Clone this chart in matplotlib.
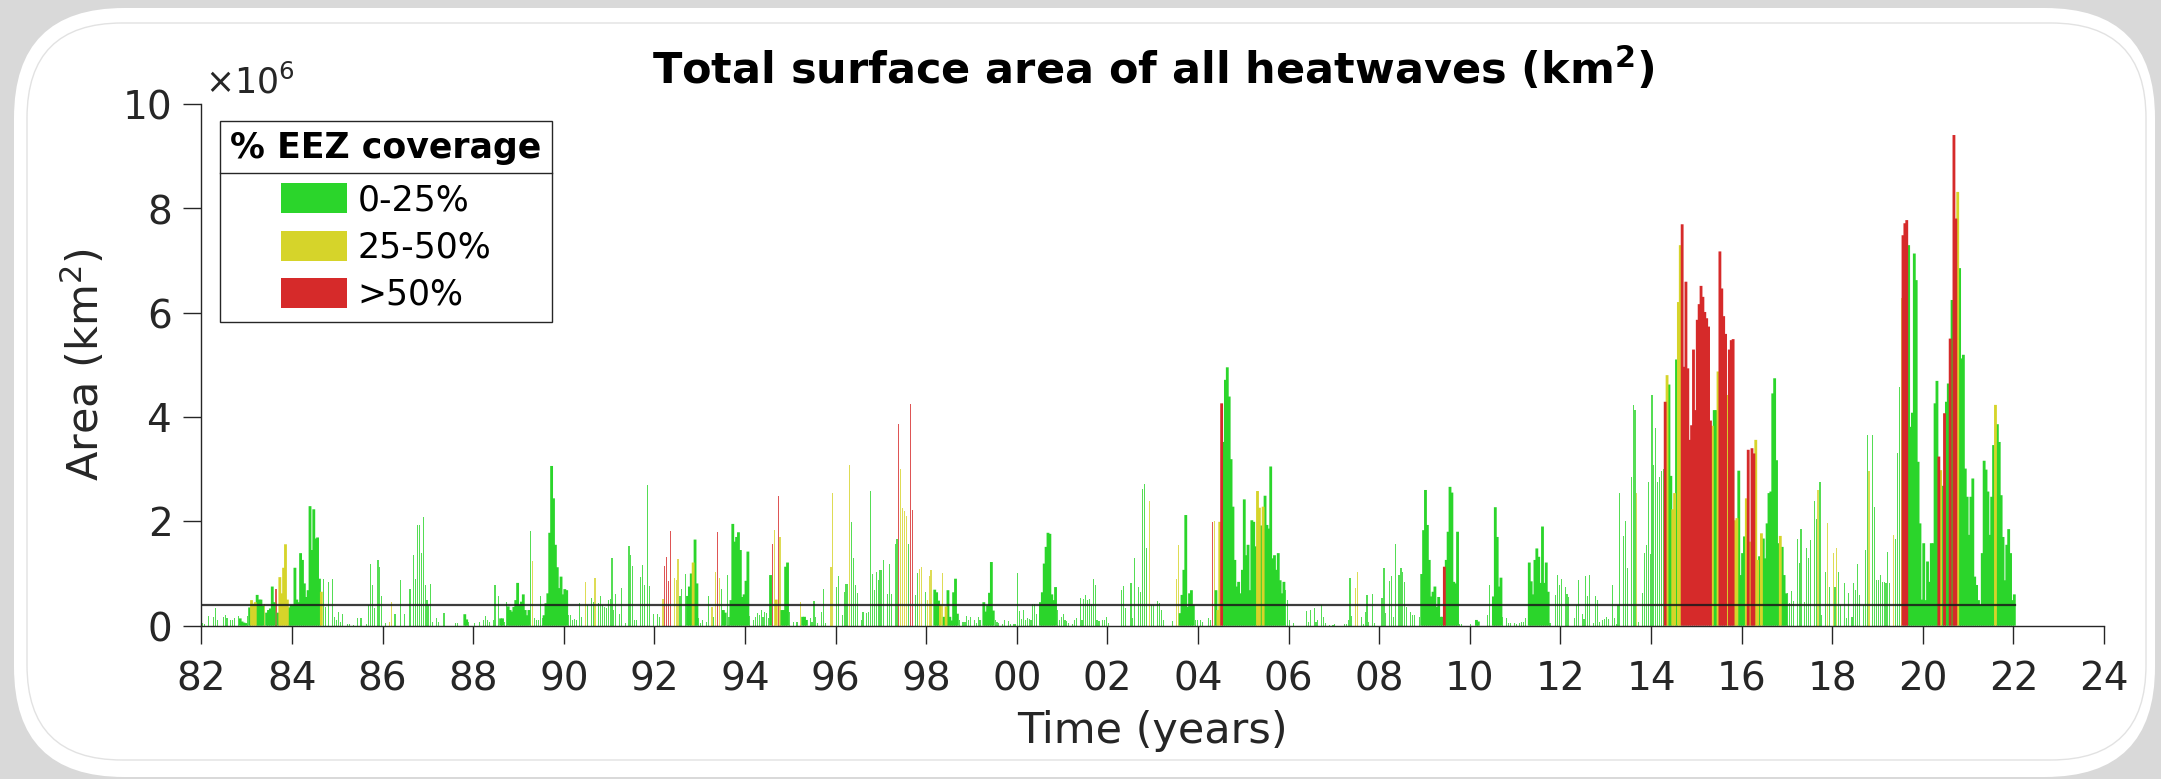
import numpy as np
import matplotlib
matplotlib.use("Agg")
import matplotlib.pyplot as plt
from matplotlib.patches import Patch, FancyBboxPatch
from matplotlib.lines import Line2D
from matplotlib.transforms import IdentityTransform
from matplotlib.ticker import ScalarFormatter

# total heatwave area per half-month bin, in 10^6 km2, one row per year from 1982
# cover: '.' none, g/y/r = 0-25 / 25-50 / >50 % EEZ coverage
# (lower case = short isolated events, upper case = sustained events)
first_year = 1982
bins_per_year = 24

area_80s = [
    [0.05,0.03,0,0.19,0,0,0.16,0.33,0.10,0,0,0.17,0.20,0.14,0,0.10,0.10,0.15,0,0.19,0.14,0.08,0.06,0.05],
    [0.19,0.35,0.49,0.42,0.45,0.59,0.50,0.50,0.38,0.42,0.25,0.30,0.33,0.75,0.45,0.70,0.25,0.93,0.62,1.11,1.56,0.50,0.35,0.40],
    [0.40,1.11,0.50,0.45,1.39,1.26,0.81,0.55,0.68,2.29,1.45,2.23,1.67,1.69,0.90,0.65,0.90,0.36,0,0.84,0,0.90,0.17,0.11],
    [0.27,0.08,0.22,0,0,0.03,0.03,0,0.02,0,0.14,0,0.14,0,0,0.03,0.40,1.19,0.78,0.33,0,1.25,1.13,0.56],
    [0,0.06,0,0.08,0.45,0,0.22,0,0,0.87,0,0.22,0,0,0.70,0,1.35,0.89,1.93,1.93,1.39,2.08,0.78,0.50],
    [0.40,0.80,0.08,0,0.14,0.08,0,0,0.24,0,0,0,0,0,0.06,0.06,0,0,0,0.22,0.12,0.08,0,0],
    [0.06,0,0,0.08,0,0.11,0.19,0.11,0.08,0,0.11,0.78,0,0.56,0.14,0.14,0.08,0.46,0.37,0.30,0.27,0.36,0.49,0.82],
    [0.40,0.46,0.60,0.30,0.20,0.30,1.81,1.24,0.14,0.10,0.10,0.56,0.15,0.20,0.43,0.62,1.78,3.06,2.44,1.55,1.12,0.72,0.94,0.60],
]
cover_80s = [
    "gg.g..ggg..ggg.ggg.gGGGG",
    "gGYYYGGGGyGGGGGrGYYYYYGG",
    "GGGGGGGGGGGGGGGYgg.g.ggg",
    "ggg..gg.g.g.g..ggggg.ggg",
    ".g.yy.g..g.g..g.gggggggg",
    "ggg.gg..g.....gg...GGg..",
    "g..g.gggg.gg.gGGggGGGGGG",
    "GGGGGGgygggggGGGGGGGGGGG",
]

area_90s = [
    [0.70,0.68,0.20,0.20,0.10,0.12,0.11,0,0.43,0.17,0,0.83,0.40,0,0.54,0.46,0.91,0,0.43,0.57,0.40,0.36,0.33,0.50],
    [0.52,1.29,0.30,0.61,0,0.22,0.73,0,0.06,0,1.53,1.35,1.15,0.11,0.10,0,0.93,1.17,0.78,0,2.69,0.76,0,0.23],
    [0,0.22,0.17,0,0.52,1.15,1.31,0.86,1.81,0,0.91,0.88,1.27,0.57,0.70,0,1.00,0.57,0.75,1.00,1.21,1.65,0.81,0.14],
    [0.06,0.11,0,0.08,0.57,0,0.36,0.17,1.02,1.79,0.91,0.70,0.30,0.25,0.97,0.17,0.49,1.95,1.61,1.70,1.79,1.45,0.55,0.60],
    [0.86,1.42,0.19,0,0.11,0.17,0.24,0.20,0.30,0.17,0.27,0.24,0.14,0.97,1.56,1.83,0.50,2.48,1.69,0.30,0.30,1.13,1.21,0.27],
    [0,0.08,0,0.08,0,0.46,0.17,0.17,0.11,0,0.14,0.08,0.48,0.17,0.06,0,0.27,0.70,0.06,0,0,1.12,2.55,0],
    [0.75,0.95,0,0.20,0.65,0.79,0.79,3.08,1.99,1.29,0.78,0.62,0,0.11,0.27,0,0.25,0.27,2.58,1.00,0.68,1.02,0.88,1.07],
    [1.06,1.25,0,0.60,1.19,0.60,0,1.57,1.67,3.86,3.00,2.25,2.20,2.11,1.56,4.25,2.21,0,0.58,1.01,1.09,1.12,0,0.64],
    [0.50,0.95,1.07,0,0.69,0.64,0.48,0.40,1.01,0.17,0.37,0.68,0.17,0.10,0.64,0.90,0.23,0.10,0,0.07,0.07,0.18,0.10,0.17],
    [0,0.10,0.05,0.17,0.10,0,0.45,0.27,0.39,0.63,1.22,0.29,0.10,0.07,0.05,0,0.04,0.11,0,0.09,0.04,0,0.04,0.03],
]
cover_90s = [
    "GGggggg.gg.yg.ggy.gggggg",
    "gggg.gg.g.ggggg.ggg.gg.g",
    ".gg.yrrrr.yyygg.gGGGYGGg",
    "gg.gg.ygyrygGGggGGGGGGGG",
    "GGg.gggggggggGryYryGGGGg",
    ".g.g.yGGG.ggggg.ggg..yy.",
    "gg.ggggygggg.gg.gggggggg",
    "gg.ggg.ggryyyygrr.ggyy.g",
    "yyy.GGGYyGYGGGGGGg.ggggg",
    ".gggg.GGGGGGggg.gg.gg.gg",
]

area_00s = [
    [1.01,0.28,0.12,0.31,0.10,0.14,0.12,0.10,0.42,0.42,0.22,0,0.45,0.64,1.19,1.51,1.78,1.76,0.60,0.49,0.74,0.30,0.10,0.17],
    [0.23,0.10,0.09,0.05,0,0.04,0.10,0.14,0,0.54,0.10,0.52,0.58,0.49,0.52,0.42,0.90,0.78,0.10,0.09,0,0.11,0.10,0.17],
    [0.05,0,0,0,0,0,0,0.68,0.76,0.33,0,0,0.81,0.14,1.29,0,0.75,0.65,2.61,2.71,1.48,0,2.39,0.40],
    [0.40,0,0.48,0.43,0.30,0.11,0,0,0,0,0.09,0,0.89,1.54,0.24,0.59,1.07,2.12,0.36,0.62,0.68,0.40,0.11,0.11],
    [0,0.11,0.08,0,0,0.14,0.11,1.99,2.00,0.68,0.30,1.99,4.26,3.52,4.71,4.95,4.39,3.19,2.28,1.26,0.75,0.84,0.62,1.07],
    [2.42,1.35,1.55,0.68,2.02,1.99,1.52,2.58,2.26,1.92,2.28,2.49,1.93,1.86,3.05,1.29,1.35,1.07,1.39,0.87,0.62,0.84,0.68,0.49],
    [0.11,0,0.05,0,0,0,0,0,0,0.29,0.08,0.30,0,0.33,0.08,0.10,0,0.40,0.17,0.05,0,0.02,0,0.02],
    [0.03,0,0,0,0,0.03,0.04,0.11,0.91,0.18,0,0.73,1.02,0,0.17,0.04,0.27,0.59,0.08,0,0.61,0.06,0,0],
    [0,0.54,1.11,0.25,0,0.86,0.95,0.17,1.56,0,0.97,1.11,1.03,0.83,0.36,0,0.27,0.20,0.20,0,0,0.17,0.99,1.83],
    [2.60,1.93,1.26,0.56,0.65,0.75,0.36,0.55,0.17,0.17,1.13,1.26,1.80,2.66,2.55,0.84,0.81,1.80,0.04,0.03,0,0,0,0],
]
cover_00s = [
    "ggggggggggg.GGGGGGGGGggg",
    "gggg.ggg.ggggggggggg.ggg",
    "g......ggg..ggg.ggggg.yg",
    "g.gggg....g.yyGGGGGGGGgg",
    ".gg..ggryGYYRGGGGGGGGGGG",
    "GGGGGGGYYGYGGGGGGGGGGGgg",
    "g.g......ggg.ggg.ggg.g.g",
    "g....ggggg.yy.ggggg.gg..",
    ".ggg.gggg.ggggg.ggg..gGG",
    "GGGGGGGGGGRGGGGGGGgg....",
]

area_10s = [
    [0.04,0,0,0.11,0.08,0,0,0,0,0.20,0.78,0,0.56,2.27,1.70,0.75,0.92,0.17,0,0.14,0.05,0.05,0,0.05],
    [0.04,0,0.06,0.08,0.08,0.14,0,1.21,0.85,0.60,1.26,1.48,1.32,0.82,1.90,0.82,1.21,0.65,0.05,0,0,0.59,0.97,0.78],
    [0.89,0,0.75,0.61,0.55,0,0,0.14,0.40,0.87,0,0.23,0.12,0.95,0.56,0.97,0,0.06,0.57,0.49,0.08,0,0.10,0.12],
    [0.17,0.12,0,0.78,0.14,0.03,0.40,2.55,0,1.71,2.00,1.10,0,2.84,4.23,4.13,2.55,0.08,0,0.62,1.39,1.55,2.76,1.37],
    [4.42,3.08,3.78,2.76,2.85,2.97,3.00,4.29,4.80,4.62,2.87,2.23,2.54,5.10,6.20,7.29,7.69,4.96,6.59,4.93,3.56,3.84,5.29,4.13],
    [5.86,6.16,6.51,6.30,6.01,5.89,5.73,3.93,3.83,4.13,4.13,4.87,7.17,6.46,5.93,5.59,4.42,5.29,5.47,5.49,2.02,2.06,2.97,0.97],
    [1.39,1.71,2.44,3.37,1.61,3.40,3.30,3.56,1.26,1.33,1.77,1.67,1.29,1.96,2.54,2.57,4.45,4.74,3.17,1.58,1.72,1.51,0.97,0.62],
    [0.62,0.43,0.67,0.48,0,1.67,1.21,1.86,0,0.46,1.49,1.29,1.65,0,2.38,2.04,2.60,2.76,0.20,0,1.02,1.96,0.75,0],
    [1.39,0.75,1.48,1.03,0.40,0,0.81,0.14,0.62,0,0.17,0.81,0.68,1.19,0.59,0,0.40,1.45,3.65,2.96,0,3.65,2.28,0.87],
    [0.87,0.97,0.84,0.84,0.82,1.42,0.82,0,1.74,1.67,3.30,4.58,6.27,7.48,7.71,7.77,7.29,3.81,4.08,7.13,6.62,3.14,1.96,0.50],
]
cover_10s = [
    "g..GG....gg.GGGGGg.ggg.g",
    "g.gggg.GGGGGGGGGGGg..ggg",
    "g.ggg..ggg.ggggg.gggg.gg",
    "gg.ggggg.ggg.gggyg.ggggg",
    "gggggggRYGGYYGYYRRRRRRRR",
    "RRRRRRRRYGGYRRRRYRRRYYGG",
    "GGYRYRRYYGYGGGGGGGGGYGGG",
    "gggg.ggg.gggg.ggygg.gyg.",
    "ygygg.ggg.ggggg.gggy.ggg",
    "ggggggg.ygggyRRRGGGGGGGG",
]

area_20s = [
    [1.58,0.49,1.23,0.84,1.58,1.58,4.26,4.69,3.24,2.98,2.68,4.07,4.29,4.64,5.50,6.24,9.40,7.80,8.31,6.85,5.12,5.19,3.01,2.47],
    [1.74,2.47,2.82,0.94,0.78,0.49,0.40,1.39,3.16,2.99,2.57,1.74,2.47,3.46,4.23,3.86,3.52,2.50,1.70,0.87,1.55,1.85,1.39,0.49],
    [0.60],
]
cover_20s = [
    "GGGGGGGGRYGRGGRGRRYGGGGG",
    "GGGGGGGGGGGGGGYGGGGGGGGG",
    "G",
]

threshold = 0.4          # 10^6 km2
legend_labels = ['0-25%', '25-50%', '>50%']
xtick_years = np.arange(1982, 2025, 2)

colours = {'g': '#2bd52b', 'y': '#d6d42a', 'r': '#d62a2a'}
ink = '#262626'

areas = area_80s + area_90s + area_00s + area_10s + area_20s
covers = cover_80s + cover_90s + cover_00s + cover_10s + cover_20s
dx = 1.0 / bins_per_year

# gather bars by colour and by sustained/isolated
groups = {}
for k in range(len(areas)):
    for i in range(len(areas[k])):
        c = covers[k][i]
        if c == '.' or areas[k][i] <= 0:
            continue
        key = (c.lower(), c.isupper())
        groups.setdefault(key, ([], []))
        groups[key][0].append(first_year + k + (i + 0.5) * dx)
        groups[key][1].append(areas[k][i] * 1e6)
data_end = first_year + len(areas) - 1 + len(areas[-1]) * dx

fig = plt.figure(figsize=(21.61, 7.79), dpi=100, facecolor='#d9d9d9')

# slide frame
fig.add_artist(FancyBboxPatch((14, 2), 2141, 769, boxstyle="round,pad=0,rounding_size=110",
                              transform=IdentityTransform(), facecolor='white',
                              edgecolor='none', zorder=-10))
fig.add_artist(FancyBboxPatch((27, 19), 2119, 737, boxstyle="round,pad=0,rounding_size=95",
                              transform=IdentityTransform(), facecolor='none',
                              edgecolor='#e2e2e2', lw=1, zorder=-9))

ax = fig.add_axes([0.09324, 0.19679, 0.88038, 0.67009])
ax.set_facecolor('none')

# thin isolated events first, sustained ones on top
for (c, solid), (xs, hs) in sorted(groups.items(), key=lambda kv: kv[0][1]):
    if solid:
        ax.bar(xs, hs, width=dx * 1.5, color=colours[c], linewidth=0, snap=False)
    else:
        ax.bar(xs, hs, width=dx * 0.6, color=colours[c], alpha=0.8, linewidth=0, snap=True)

ax.plot([first_year, data_end], [threshold * 1e6] * 2, color='#1a1a1a', lw=1.6, alpha=0.85)

ax.set_xlim(1982, 2024)
ax.set_ylim(0, 1e7)
ax.set_xticks(xtick_years)
ax.set_xticklabels([f"{y % 100:02d}" for y in xtick_years])
ax.set_yticks(np.arange(0, 1.01e7, 2e6))
fmt = ScalarFormatter(useMathText=True)
fmt.set_powerlimits((6, 6))
ax.yaxis.set_major_formatter(fmt)
ax.yaxis.get_offset_text().set_visible(False)
ax.text(0.002, 1.02, r'$\times\mathdefault{10^{6}}$', transform=ax.transAxes,
        fontsize=25, color=ink, ha='left', va='baseline')

for s in ['top', 'right']:
    ax.spines[s].set_visible(False)
for s in ['left', 'bottom']:
    ax.spines[s].set_color(ink)
    ax.spines[s].set_linewidth(1.0)
ax.tick_params(direction='out', length=13, width=1, colors=ink, labelsize=28)
ax.tick_params(axis='x', pad=12)
ax.tick_params(axis='y', pad=9)

ax.set_xlabel('Time (years)', fontsize=31, color=ink, labelpad=8)
ax.set_ylabel('Area (km$^2$)', fontsize=31, color=ink, labelpad=10)
ax.set_title('Total surface area of all heatwaves (km$^{\\mathbf{2}}$)', fontsize=31,
             fontweight='bold', pad=14)

handles = [Patch(facecolor=colours[c], edgecolor='none') for c in 'gyr']
leg = ax.legend(handles, legend_labels, title='% EEZ coverage', loc='upper left',
                bbox_to_anchor=(0.0097, 0.967), borderaxespad=0, fontsize=25,
                title_fontproperties={'weight': 'bold', 'size': 25},
                handlelength=1.9, handleheight=0.95, handletextpad=0.3,
                labelspacing=0.38, borderpad=0.3, fancybox=False,
                edgecolor=ink, framealpha=1)
leg.get_frame().set_linewidth(1.0)
# a little more room between the legend title and its entries
if hasattr(leg, '_legend_box'):
    leg._legend_box.sep = 13

# separator line under the legend title
fig.canvas.draw()
r = fig.canvas.get_renderer()
fb = leg.get_frame().get_window_extent(r)
tb = leg.get_title().get_window_extent(r)
ysep = tb.y0 - 8
fig.add_artist(Line2D([fb.x0, fb.x1], [ysep, ysep], transform=IdentityTransform(),
                      color=ink, lw=1.0))

fig.savefig('out.png', dpi=100, facecolor=fig.get_facecolor())
